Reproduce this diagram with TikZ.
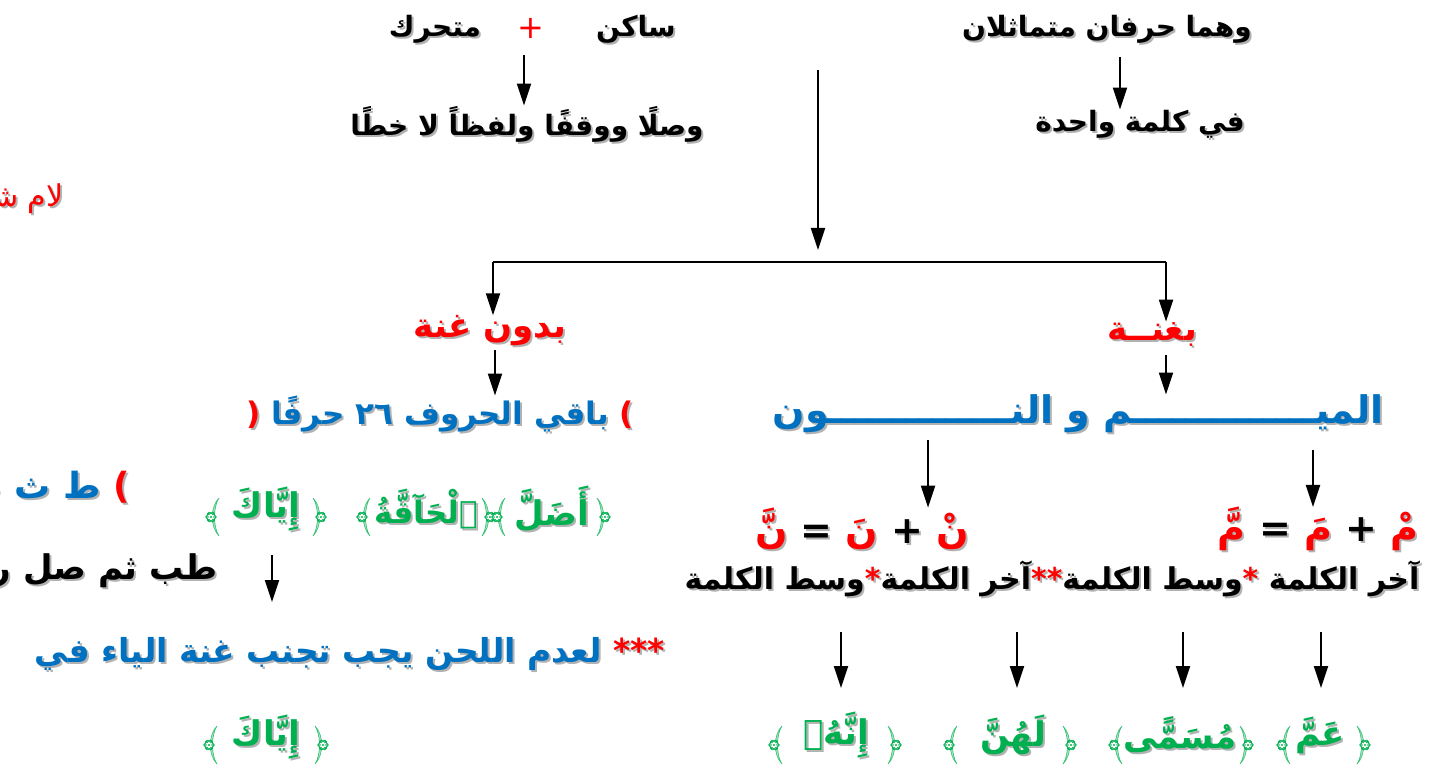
\documentclass[tikz,border=0pt]{standalone}
\usepackage{fontspec}
\TeXXeTstate=1
\newfontfamily\arabicfont[Script=Arabic]{DejaVu Sans}
\usetikzlibrary{arrows.meta}
\definecolor{arblue}{RGB}{0,112,192}
\definecolor{argreen}{RGB}{0,176,80}
% one coloured run of text
\newcommand\seg[2]{{\color{#1}#2}}
% the same line again, grey and shifted, as a shadow
\newcommand\shad[1]{\leavevmode\rlap{\def\seg##1##2{##2}\kern1pt\raisebox{-1pt}{\color{black!30}#1}}#1}
\tikzset{
  lbl/.style={font=\arabicfont\bfseries\fontsize{14}{17}\selectfont, inner sep=0pt},
  lblw/.style={font=\arabicfont\bfseries\fontsize{15}{18}\selectfont, inner sep=0pt},
  lbln/.style={font=\arabicfont\fontsize{15}{18}\selectfont, inner sep=0pt},
  head/.style={font=\arabicfont\bfseries\fontsize{17}{20}\selectfont, inner sep=0pt},
  big/.style={font=\arabicfont\bfseries\fontsize{19}{22}\selectfont, inner sep=0pt},
  aya/.style={font=\arabicfont\bfseries\fontsize{17}{21}\selectfont, inner sep=0pt},
  arr/.style={->,>={Triangle[width=7pt,length=11pt]},line width=1pt},
  orn/.pic={
    \fill[argreen!35] (5,-19) .. controls (-4,-10) and (-4,10) .. (5,19)
      .. controls (-1,10) and (-1,-10) .. (5,-19);
    \draw[argreen!80,line width=0.3pt] (5,-19) .. controls (-4,-10) and (-4,10) .. (5,19)
      .. controls (-1,10) and (-1,-10) .. (5,-19);
    \filldraw[argreen,fill=white,line width=0.4pt] (-3,0) circle (4.5);
    \foreach \a in {0,60,...,300}
      \draw[argreen,line width=0.3pt] (-3,0) ++(\a:4) circle (1.5);
    \fill[argreen] (-3,0) circle (1.2);
  },
}
\begin{document}
\begin{tikzpicture}[x=0.5pt,y=-0.5pt]
\useasboundingbox (0,0) rectangle (1447,781);
\clip (0,0) rectangle (1447,781);

% top rows
\node[lbl] (mutamathilan) at (1107,30) {\shad{\seg{black}{\beginR وهما حرفان متماثلان\endR}}};
\node[lbl] (wahida) at (1140,125) {\shad{\seg{black}{\beginR في كلمة واحدة\endR}}};
\node[lbl] (sakin) at (636,30) {\shad{\seg{black}{\beginR ساكن\endR}}};
\node[lbln,red] (plus) at (531,28) {\fontsize{16}{18}\selectfont +};
\node[lbl] (mutaharrik) at (435,30) {\shad{\seg{black}{\beginR متحرك\endR}}};
\node[lbl] (wasl) at (527,125) {\shad{\seg{black}{\beginR وصلًا ووقفًا ولفظاً لا خطًا\endR}}};
\node[lbln,anchor=east] (lam) at (64,200) {\shad{\seg{red}{\beginR لام شمسية\endR}}};

\coordinate (c1) at (1120,57);
\coordinate (c2) at (524,55);
\draw[arr] (c1) -- (c1 |- wahida.north);
\draw[arr] (c2) -- (c2 |- wasl.north);

% the split
\coordinate (split) at (818,70);
\coordinate (join) at (818,250);
\coordinate (bl) at (493,262);
\coordinate (br) at (1166,262);
\draw[arr] (split) -- (join);
\draw[line width=1pt] (bl) -- (br);

\node[head] (bidun) at (490,332) {\shad{\seg{red}{\beginR بدون غنة\endR}}};
\node[head] (bighunna) at (1152,335) {\shad{\seg{red}{\beginR بغنــة\endR}}};
\draw[arr] (bl) -- (bl |- bidun.north);
\draw[arr] (br) -- (br |- bighunna.north);

% left branch
\node[font=\arabicfont\bfseries\fontsize{15.5}{18}\selectfont,inner sep=0pt] (baqi) at (440,415)
  {\shad{\seg{red}{(} \seg{arblue}{\beginR باقي الحروف ٢٦ حرفًا\endR} \seg{red}{)}}};
\coordinate (c3) at (495,350);
\draw[arr] (c3) -- (c3 |- baqi.north);
\node[font=\arabicfont\bfseries\fontsize{18}{21}\selectfont,inner sep=0pt,anchor=east] (huruf) at (130,490)
  {\shad{\seg{red}{(} \seg{arblue}{\beginR ط ث ص ر ت ض ذ ن د س ظ ز ش ل\endR} \seg{red}{)}}};
\node[aya] (adalla) at (552,510) {\shad{\seg{argreen}{\beginR أَضَلَّ\endR}}};
\node[aya,font=\arabicfont\bfseries\fontsize{15.5}{20}\selectfont] (haqqa) at (426,510) {\shad{\seg{argreen}{\beginR ٱلْحَآقَّةُ\endR}}};
\node[aya] (iyyaka) at (266,510) {\shad{\seg{argreen}{\beginR إِيَّاكَ\endR}}};
\pic at (214,517) {orn};
\pic[xscale=-1] at (318,517) {orn};
\pic at (365,517) {orn};
\pic[xscale=-1] at (487,517) {orn};
\pic at (500,517) {orn};
\pic[xscale=-1] at (602,517) {orn};
\node[font=\arabicfont\bfseries\fontsize{17}{20}\selectfont,inner sep=0pt,anchor=east] (tib) at (218,572)
  {\shad{\seg{black}{\beginR طب ثم صل رحما تفز ضف ذا نعم دع سوء ظن زر شريفا للكرم\endR}}};
\coordinate (c4) at (272,555);
\draw[arr] (c4) -- ++(0,47);
\node[font=\arabicfont\bfseries\fontsize{16.5}{19}\selectfont,inner sep=0pt] (lahn) at (350,655)
  {\shad{\seg{arblue}{\beginR لعدم اللحن يجب تجنب غنة الياء في\endR} \seg{red}{***}}};
\node[aya] (iyyaka2) at (266,738) {\shad{\seg{argreen}{\beginR إِيَّاكَ\endR}}};
\pic at (212,745) {orn};
\pic[xscale=-1] at (320,745) {orn};

% right branch
\node[big] (meem) at (1078,415) {\shad{\seg{arblue}{\beginR الميــــــــــــــم و النــــــــــــــون\endR}}};
\coordinate (c5) at (1166,355);
\draw[arr] (c5) -- (c5 |- meem.north);
\node[big] (eqm) at (1318,530) {\shad{\seg{red}{\beginR مَّ\endR} \seg{black}{=} \seg{red}{\beginR مَ\endR} \seg{black}{+} \seg{red}{\beginR مْ\endR}}};
\node[big] (eqn) at (862,530) {\shad{\seg{red}{\beginR نَّ\endR} \seg{black}{=} \seg{red}{\beginR نَ\endR} \seg{black}{+} \seg{red}{\beginR نْ\endR}}};
\coordinate (c6) at (1313,450);
\coordinate (c7) at (928,440);
\draw[arr] (c6) -- (c6 |- eqm.north);
\draw[arr] (c7) -- (c7 |- eqn.north);
\node[lblw] (mawdi) at (1052,580) {\shad{\seg{black}{\beginR وسط الكلمة\endR}\seg{red}{*}\seg{black}{\beginR آخر الكلمة\endR}\seg{red}{**}\seg{black}{\beginR وسط الكلمة\endR}\seg{red}{*} \seg{black}{\beginR آخر الكلمة\endR}}};

% examples
\node[aya] (amma) at (1320,736) {\shad{\seg{argreen}{\beginR عَمَّ\endR}}};
\node[aya] (musamma) at (1180,736) {\shad{\seg{argreen}{\beginR مُسَمًّى\endR}}};
\node[aya] (lahunna) at (1013,736) {\shad{\seg{argreen}{\beginR لَهُنَّ\endR}}};
\node[aya] (innahu) at (836,736) {\shad{\seg{argreen}{\beginR إِنَّهُۥ\endR}}};
\pic at (1285,745) {orn};
\pic[xscale=-1] at (1362,745) {orn};
\pic[xscale=-1] at (1245,745) {orn};
\pic at (1117,745) {orn};
\pic[xscale=-1] at (1068,745) {orn};
\pic at (952,745) {orn};
\pic[xscale=-1] at (893,745) {orn};
\pic at (777,745) {orn};
\coordinate (d1) at (1321,632);
\coordinate (d2) at (1183,632);
\coordinate (d3) at (1017,632);
\coordinate (d4) at (841,632);
\draw[arr] (d1) -- ++(0,56);
\draw[arr] (d2) -- ++(0,56);
\draw[arr] (d3) -- ++(0,56);
\draw[arr] (d4) -- ++(0,56);
\end{tikzpicture}
\end{document}
